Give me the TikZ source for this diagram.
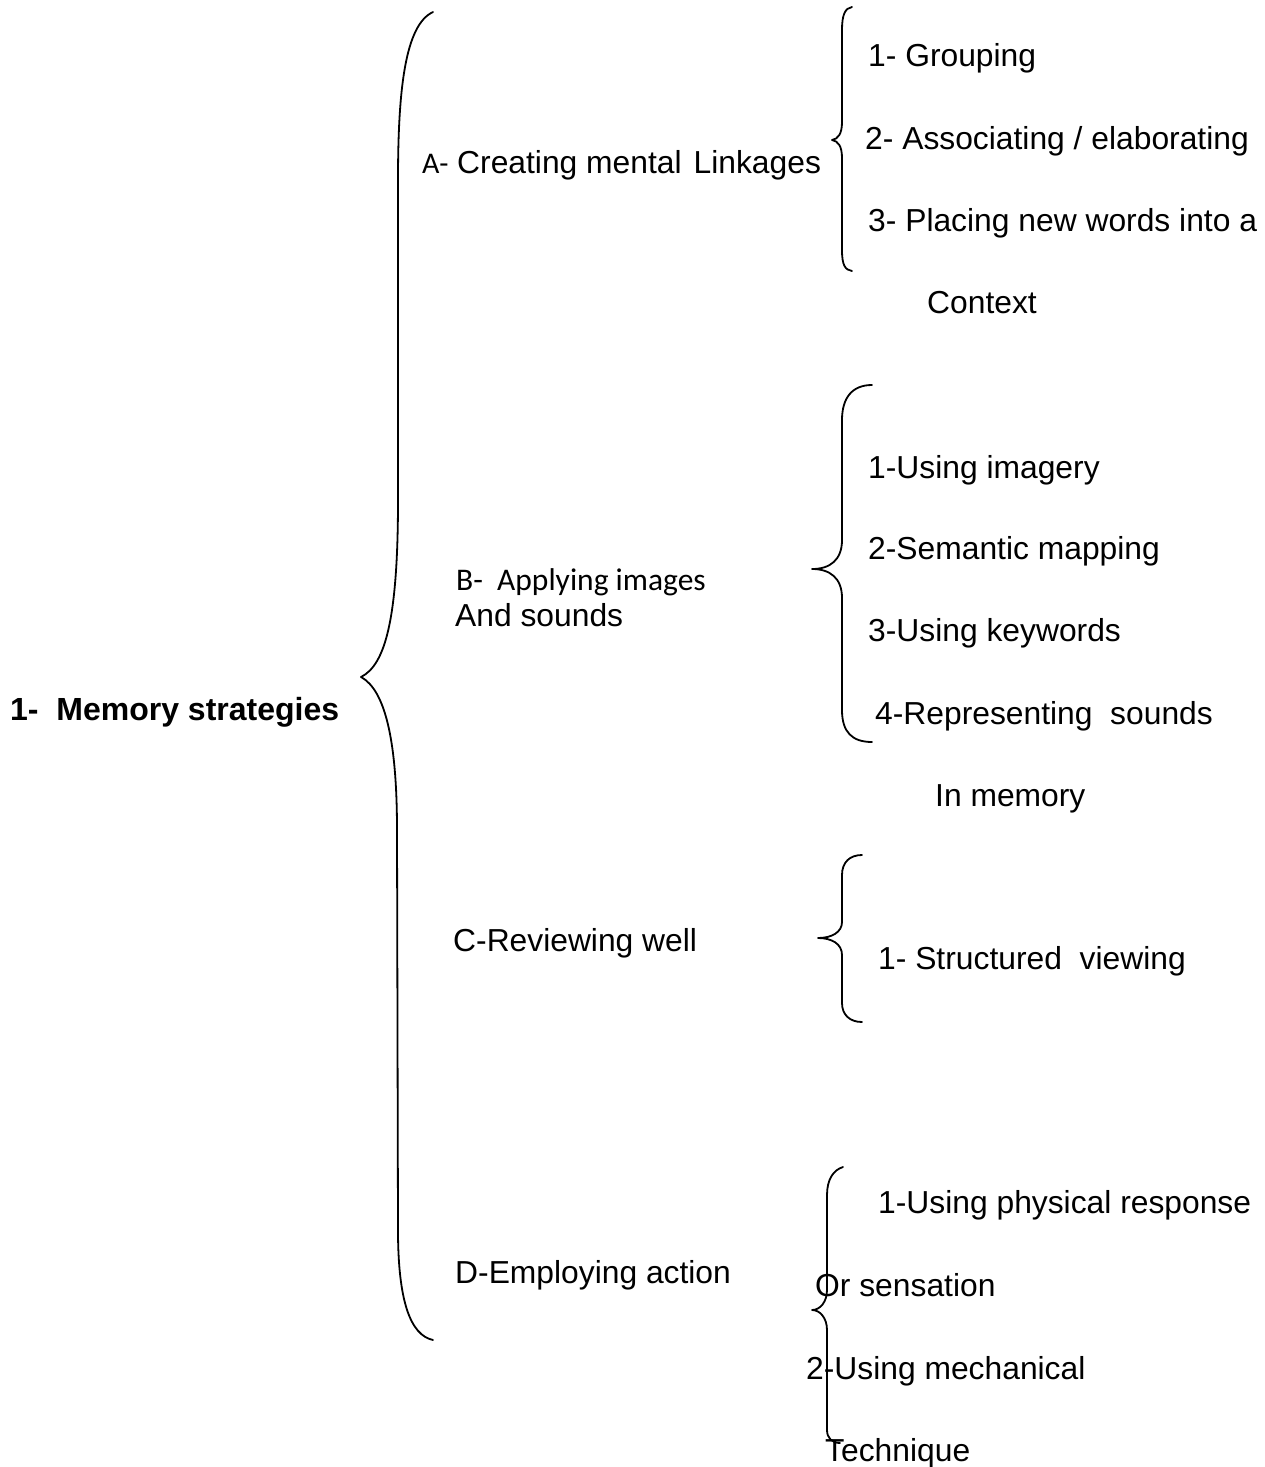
\documentclass[tikz,border=0pt]{standalone}
\usepackage{fontspec}
\setmainfont{Liberation Sans}
\newfontfamily\calib{Carlito}
\begin{document}
\begin{tikzpicture}[x=1pt,y=-1pt,
  txt/.style={anchor=base west,inner sep=0pt,font=\fontsize{31.8}{36}\selectfont},
  ctxt/.style={anchor=base west,inner sep=0pt,font=\calib\fontsize{31.5}{36}\selectfont},
  brace/.style={line width=1.8pt,line cap=round,line join=round}]
\useasboundingbox[fill=white] (0,0) rectangle (1264,1467);
% main
\node[txt,font=\bfseries\fontsize{32}{36}\selectfont] (root) at (10,720) {1-\ \ Memory strategies};
% big brace
\draw[brace] (433,12) .. controls (405,25) and (398,90) .. (398,180) -- (398,500)
  .. controls (398,620) and (385,665) .. (361,677)
  .. controls (385,690) and (397,740) .. (397,830) -- (398,1230)
  .. controls (398,1300) and (410,1335) .. (433,1340);
% A
\node[txt] (A) at (422,173) {\makebox[35pt][l]{\calib\fontsize{30}{34}\selectfont A-}Creating mental\hspace{12pt}Linkages};
\draw[brace] (852,7) .. controls (845,8) and (842,15) .. (842,30) -- (842,122)
  .. controls (842,134) and (838,139) .. (832,140)
  .. controls (838,141) and (842,146) .. (842,158) -- (842,250)
  .. controls (842,265) and (845,270) .. (852,271);
\node[txt] (a1) at (868,66) {1- Grouping};
\node[txt] (a2) at (865,149) {2- Associating / elaborating};
\node[txt] (a3) at (868,231) {3- Placing new words into a};
\node[txt] (a4) at (927,313) {Context};
% B
\node[ctxt] (B1) at (456,590) {B-\ \ Applying images};
\node[txt] (B2) at (455,626) {And sounds};
\draw[brace] (872,385) .. controls (852,385) and (842,398) .. (842,420) -- (842,540)
  .. controls (842,560) and (830,569) .. (812,569)
  .. controls (830,569) and (842,578) .. (842,598) -- (842,710)
  .. controls (842,732) and (852,742) .. (872,742);
\node[txt] (b1) at (868,478) {1-Using imagery};
\node[txt] (b2) at (868,559) {2-Semantic mapping};
\node[txt] (b3) at (868,641) {3-Using keywords};
\node[txt] (b4) at (875,724) {4-Representing\ \ sounds};
\node[txt] (b5) at (935,806) {In memory};
% C
\node[txt] (C) at (453,951) {C-Reviewing well};
\draw[brace] (862,855) .. controls (850,855) and (842,862) .. (842,875) -- (842,922)
  .. controls (842,932) and (832,938) .. (818,938)
  .. controls (832,938) and (842,944) .. (842,955) -- (842,1003)
  .. controls (842,1015) and (850,1022) .. (862,1022);
\node[txt] (c1) at (878,969) {1- Structured\ \ viewing};
% D
\node[txt] (D) at (455,1283) {D-Employing action};
\draw[brace] (843,1167) .. controls (833,1170) and (827,1180) .. (827,1195) -- (827,1290)
  .. controls (827,1302) and (820,1310) .. (812,1310)
  .. controls (820,1310) and (827,1318) .. (827,1330) -- (827,1430)
  .. controls (827,1438) and (832,1443) .. (840,1443);
\node[txt] (d1) at (878,1213) {1-Using physical response};
\node[txt] (d2) at (815,1296) {Or sensation};
\node[txt] (d3) at (806,1379) {2-Using mechanical};
\node[txt] (d4) at (825,1461) {Technique};
\end{tikzpicture}
\end{document}
